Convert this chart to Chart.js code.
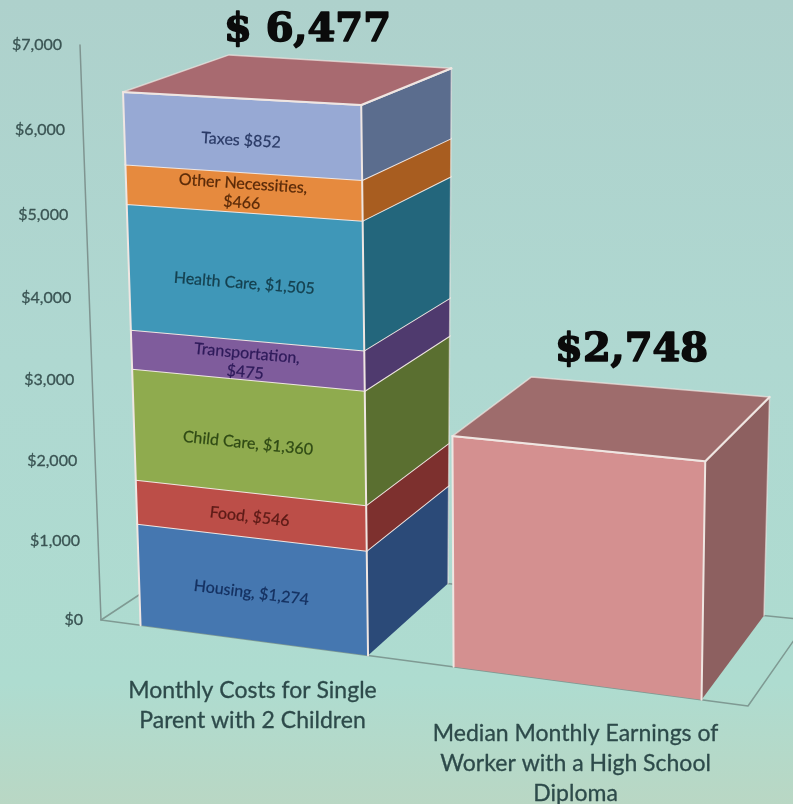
<!DOCTYPE html>
<html>
<head>
<meta charset="utf-8">
<style>
html, body { margin: 0; padding: 0; background: #b0d9d1; }
body { width: 793px; height: 804px; overflow: hidden; background: linear-gradient(180deg, #aed1cc 0%, #afd8d1 45%, #aedcd0 85%, #b9d7c4 100%); }
canvas { display: block; filter: blur(0.6px); }
</style>
<script src="https://cdn.jsdelivr.net/npm/chart.js@4"></script>
</head>
<body>
<canvas id="costChart" width="793" height="804"></canvas>
<script>
const categories = [
    ['Monthly Costs for Single', 'Parent with 2 Children'],
    ['Median Monthly Earnings of', 'Worker with a High School', 'Diploma']
];
const tickLabels = ['$0', '$1,000', '$2,000', '$3,000', '$4,000', '$5,000', '$6,000', '$7,000'];

const housing = [1274, null];
const food = [546, null];
const childCare = [1360, null];
const transportation = [475, null];
const healthCare = [1505, null];
const otherNecessities = [466, null];
const taxes = [852, null];
const earnings = [null, 2748];

const totals = ['$ 6,477', '$2,748'];

// one entry per dataset, bottom of the stack first
const segments = [
    { data: housing, name: ['Housing, $1,274'], front: '#4577b0', side: '#2b4a78', ink: '#143060', nudge: 4 },
    { data: food, name: ['Food, $546'], front: '#bc4e48', side: '#7d302e', ink: '#5c1a16', nudge: 2 },
    { data: childCare, name: ['Child Care, $1,360'], front: '#8fab4e', side: '#5a6f30', ink: '#2f4a14', nudge: 7 },
    { data: transportation, name: ['Transportation,', '$475'], front: '#7f5c9c', side: '#4f3a6e', ink: '#2e1a5a', nudge: 3 },
    { data: healthCare, name: ['Health Care, $1,505'], front: '#3f97b8', side: '#23667c', ink: '#14404f', nudge: 7 },
    { data: otherNecessities, name: ['Other Necessities,', '$466'], front: '#e68a3e', side: '#a85d20', ink: '#5a2a08', nudge: 1 },
    { data: taxes, name: ['Taxes $852'], front: '#97a9d4', side: '#5b6d8e', ink: '#2a3a66', nudge: 5 },
    { data: earnings, name: [], front: '#d49090', side: '#8d6060', ink: '#000', nudge: 0 }
];
const topColors = ['#a86a70', '#9e6c6c'];
const totalOffsets = [[-31, -31], [-17, -36]];

// the 3D box of the plot as it lands on the page
const floorFront = [[101, 620], [748, 706]];
const floorBack = [[195, 558], [808, 620]];
const roofFront = [[80, 45], [760, 78]];
const roofBack = [[190, 10], [824, 46]];
const widthBend = 0.09;
const heightBend = 0.045;

const mix = (a, b, f) => [a[0] + (b[0] - a[0]) * f, a[1] + (b[1] - a[1]) * f];

function project(chart, px, py, z) {
    const area = chart.chartArea;
    const p = (px - area.left) / (area.right - area.left);
    const s = (area.bottom - py) / (area.bottom - area.top);
    const t = p / (1 + widthBend * (1 - p));
    const u = s / (1 + heightBend * (1 - s));
    const bottom = mix(mix(floorFront[0], floorFront[1], t), mix(floorBack[0], floorBack[1], t), z);
    const top = mix(mix(roofFront[0], roofFront[1], t), mix(roofBack[0], roofBack[1], t), z);
    return mix(bottom, top, u);
}

function trace(ctx, pts) {
    ctx.beginPath();
    pts.forEach((pt, i) => i ? ctx.lineTo(pt[0], pt[1]) : ctx.moveTo(pt[0], pt[1]));
}

function fillFace(ctx, pts, color) {
    trace(ctx, pts);
    ctx.closePath();
    ctx.fillStyle = color;
    ctx.fill();
}

function strokeEdge(ctx, pts, color, width) {
    trace(ctx, pts);
    ctx.strokeStyle = color;
    ctx.lineWidth = width;
    ctx.lineJoin = 'round';
    ctx.lineCap = 'round';
    ctx.stroke();
}

// fill plus a hair of stroke, the reference text is heavier than plain Lato
function heavyText(ctx, txt, x, y, color, weight) {
    ctx.fillStyle = color;
    ctx.strokeStyle = color;
    ctx.lineWidth = weight;
    ctx.lineJoin = 'round';
    ctx.strokeText(txt, x, y);
    ctx.fillText(txt, x, y);
}

const box3d = {
    id: 'box3d',
    beforeDatasetsDraw(chart) {
        const ctx = chart.ctx;
        const area = chart.chartArea;
        const yScale = chart.scales.y;
        const at = (x, y, z) => project(chart, x, y, z);
        ctx.save();

        // floor and value axis
        const a = at(area.left, area.bottom, 0);
        const b = at(area.right, area.bottom, 0);
        const c = at(area.left, area.bottom, 1);
        const d = at(area.right, area.bottom, 1);
        strokeEdge(ctx, [c, a, b, d, c], '#7f9a93', 1.5);
        strokeEdge(ctx, [a, at(area.left, area.top, 0)], '#7f9490', 1.5);

        // value tick labels
        ctx.font = '16px Lato';
        ctx.textAlign = 'right';
        ctx.textBaseline = 'middle';
        yScale.ticks.forEach(tick => {
            const pt = at(area.left, yScale.getPixelForValue(tick.value), 0);
            heavyText(ctx, tick.label, pt[0] - 18, pt[1], '#3a5453', 0.3);
        });

        // boxes, one stack at a time, low segments first
        categories.forEach((lines, col) => {
            let first = null;
            let last = null;
            segments.forEach((seg, i) => {
                const bar = chart.getDatasetMeta(i).data[col];
                if (seg.data[col] === null) return;
                const l = bar.x - bar.width / 2;
                const r = bar.x + bar.width / 2;
                const fl0 = at(l, bar.base, 0), fr0 = at(r, bar.base, 0), br0 = at(r, bar.base, 1);
                const fl1 = at(l, bar.y, 0), fr1 = at(r, bar.y, 0), br1 = at(r, bar.y, 1);
                fillFace(ctx, [fr0, br0, br1, fr1], seg.side);
                fillFace(ctx, [fl0, fr0, fr1, fl1], seg.front);
                strokeEdge(ctx, [br0, br1], 'rgba(240,232,228,0.6)', 1.5);
                strokeEdge(ctx, [fr1, br1], '#efe6e2', 2);
                strokeEdge(ctx, [fl0, fl1, fr1, fr0], '#efe6e2', 2);
                if (!first) first = bar;
                last = { bar, l, r, seg };

                // label on the front face, tilted with it
                const mid = (bar.y + bar.base) / 2;
                const cen = at(bar.x, mid, 0);
                const ang = Math.atan2(at(r, mid, 0)[1] - at(l, mid, 0)[1], at(r, mid, 0)[0] - at(l, mid, 0)[0]);
                ctx.save();
                ctx.translate(cen[0], cen[1] + seg.nudge);
                ctx.rotate(ang);
                ctx.font = '16px Lato';
                ctx.textAlign = 'center';
                seg.name.forEach((txt, n) => {
                    heavyText(ctx, txt, 0, (n - (seg.name.length - 1) / 2) * 19, seg.ink, 0.25);
                });
                ctx.restore();
            });

            // roof of the stack and its total
            const { bar, l, r } = last;
            const fl = at(l, bar.y, 0), fr = at(r, bar.y, 0), br = at(r, bar.y, 1), bl = at(l, bar.y, 1);
            fillFace(ctx, [fl, fr, br, bl], topColors[col]);
            strokeEdge(ctx, [fl, bl, br], 'rgba(240,228,224,0.7)', 1.5);
            strokeEdge(ctx, [fl, fr, br], '#efe6e2', 2);

            const anchor = at(bar.x, bar.y, 1);
            ctx.font = 'bold 40px "DejaVu Serif"';
            ctx.textAlign = 'center';
            heavyText(ctx, totals[col], anchor[0] + totalOffsets[col][0], anchor[1] + totalOffsets[col][1], '#0b0b0b', 1.6);

            // category label under the box
            const foot = at(first.x, first.base, 0);
            ctx.font = '23px Lato';
            lines.forEach((txt, n) => heavyText(ctx, txt, foot[0], foot[1] + 50 + n * 30, '#2d4a4a', 0.3));
        });

        ctx.restore();
        return false;
    }
};

new Chart(document.getElementById('costChart').getContext('2d'), {
    type: 'bar',
    data: {
        labels: categories,
        datasets: segments.map(seg => ({
            label: seg.name.join(' '),
            data: seg.data,
            backgroundColor: seg.front,
            barPercentage: 0.735,
            categoryPercentage: 1
        }))
    },
    options: {
        responsive: false,
        animation: false,
        plugins: { legend: { display: false }, tooltip: { enabled: false } },
        scales: {
            x: { display: false, stacked: true },
            y: {
                display: false,
                stacked: true,
                min: 0,
                max: 7000,
                ticks: { stepSize: 1000, callback: (v, i) => tickLabels[i] }
            }
        }
    },
    plugins: [box3d]
});
</script>
</body>
</html>
